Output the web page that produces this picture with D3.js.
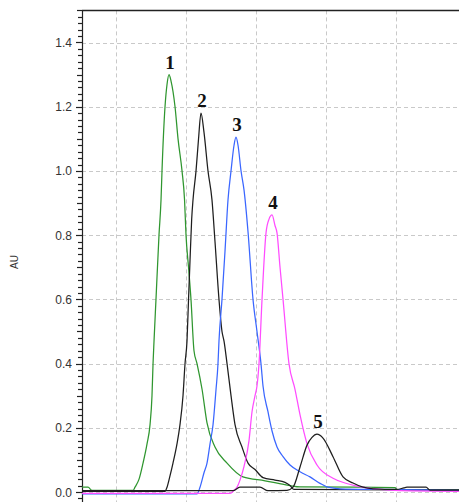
<!DOCTYPE html>
<html><head><meta charset="utf-8">
<script src="https://cdn.jsdelivr.net/npm/d3@7"></script>
<style>html,body{margin:0;padding:0;background:#fff;}svg{display:block;}</style>
</head><body><div id="chart"></div>
<script>
// Time (min) and absorbance (AU)
const yTicks = [0.0, 0.2, 0.4, 0.6, 0.8, 1.0, 1.2, 1.4];
const xGrid = [1, 2, 3, 4, 5];
const peakLabels = ["1", "2", "3", "4", "5"];
const seriesColors = ["#2f962f", "#1e1e1e", "#3a66ff", "#ff4cff", "#1e1e1e"];

const peak1 = [[0.514,0.015],[0.6,0.015],[0.657,0.005],[1.243,0.005],[1.271,0.015],[1.329,0.04],[1.386,0.09],[1.443,0.15],[1.486,0.21],[1.514,0.3],[1.529,0.4],[1.543,0.47],[1.571,0.6],[1.614,0.8],[1.643,0.91],[1.657,1.0],[1.7,1.2],[1.729,1.27],[1.757,1.30],[1.786,1.28],[1.843,1.2],[1.886,1.1],[1.943,1.0],[1.979,0.91],[2.0,0.8],[2.036,0.7],[2.071,0.6],[2.114,0.44],[2.157,0.4],[2.229,0.32],[2.3,0.215],[2.414,0.14],[2.586,0.09],[2.814,0.047],[3.129,0.035],[3.486,0.02],[3.629,0.016],[4.986,0.014],[5.014,0.007],[5.9,0.007]];
const peak2 = [[0.514,0.002],[1.7,0.002],[1.729,0.015],[1.771,0.05],[1.814,0.09],[1.871,0.15],[1.914,0.21],[1.957,0.3],[1.986,0.4],[2.014,0.47],[2.036,0.6],[2.057,0.72],[2.081,0.85],[2.1,0.91],[2.143,1.0],[2.179,1.1],[2.214,1.18],[2.257,1.12],[2.314,1.0],[2.371,0.91],[2.414,0.78],[2.471,0.6],[2.514,0.5],[2.543,0.47],[2.586,0.4],[2.643,0.3],[2.7,0.21],[2.8,0.14],[2.886,0.09],[2.986,0.07],[3.1,0.045],[3.271,0.037],[3.414,0.03],[3.486,0.02],[3.543,0.008],[5.9,0.006]];
const peak3 = [[0.514,-0.006],[2.157,-0.006],[2.2,0.015],[2.257,0.06],[2.3,0.09],[2.343,0.15],[2.386,0.21],[2.429,0.32],[2.457,0.4],[2.471,0.47],[2.514,0.6],[2.557,0.75],[2.6,0.91],[2.643,1.0],[2.686,1.08],[2.714,1.105],[2.743,1.08],[2.786,1.0],[2.829,0.94],[2.886,0.81],[2.957,0.6],[3.014,0.5],[3.071,0.4],[3.1,0.33],[3.171,0.25],[3.229,0.19],[3.3,0.14],[3.386,0.11],[3.486,0.084],[3.629,0.063],[3.771,0.047],[3.914,0.027],[4.029,0.015],[4.2,0.01],[4.771,0.008],[5.9,0.005]];
const peak4 = [[0.514,-0.004],[2.629,-0.004],[2.686,0.005],[2.729,0.015],[2.771,0.037],[2.829,0.08],[2.9,0.16],[2.943,0.25],[2.986,0.3],[3.014,0.33],[3.043,0.4],[3.086,0.6],[3.143,0.807],[3.186,0.85],[3.229,0.863],[3.271,0.83],[3.3,0.807],[3.343,0.7],[3.386,0.6],[3.471,0.4],[3.557,0.32],[3.629,0.24],[3.729,0.15],[3.871,0.084],[4.1,0.043],[4.271,0.028],[4.443,0.018],[4.771,0.008],[5.057,0.004],[5.9,0.002]];
const peak5 = [[0.514,0.004],[2.671,0.004],[2.771,0.015],[3.057,0.015],[3.171,0.004],[3.443,0.005],[3.529,0.015],[3.629,0.078],[3.729,0.146],[3.8,0.17],[3.871,0.18],[3.957,0.168],[4.1,0.11],[4.243,0.047],[4.386,0.028],[4.529,0.015],[4.671,0.01],[5.014,0.008],[5.114,0.013],[5.157,0.015],[5.429,0.015],[5.486,0.006],[5.9,0.006]];
const series = [peak1, peak2, peak3, peak4, peak5];

const W = 459, H = 502;
const svg = d3.select("#chart").append("svg").attr("width", W).attr("height", H);

const x = d3.scaleLinear().domain([0.514, 5.9]).range([82, 459]);
const y = d3.scaleLinear().domain([0, 1.4]).range([492, 42.5]);
const yTop = y(1.5), yBot = H;

// grid
const grid = svg.append("g").attr("stroke", "#c9c9c9").attr("stroke-width", 1).attr("stroke-dasharray", "4,3");
grid.selectAll("line.h").data(yTicks).join("line").attr("class","h")
  .attr("x1", 82).attr("x2", W).attr("y1", d => Math.round(y(d)) + 0.5).attr("y2", d => Math.round(y(d)) + 0.5);
grid.selectAll("line.v").data(xGrid).join("line").attr("class","v")
  .attr("x1", d => Math.round(x(d)) + 0.5).attr("x2", d => Math.round(x(d)) + 0.5).attr("y1", yTop).attr("y2", yBot);

// top border
svg.append("line").attr("x1", 82).attr("x2", W).attr("y1", Math.round(yTop)+0.5).attr("y2", Math.round(yTop)+0.5)
  .attr("stroke", "#222").attr("stroke-width", 1.3);

// y axis with minor ticks
const minor = d3.range(-2, 76).map(i => i * 0.02).filter(v => v <= 1.5001 && y(v) <= yBot);
const axisG = svg.append("g");
axisG.append("line").attr("x1", 82.5).attr("x2", 82.5).attr("y1", yTop).attr("y2", yBot).attr("stroke", "#222").attr("stroke-width", 1.2);
axisG.selectAll("line.t").data(minor).join("line").attr("class", "t")
  .attr("x1", d => {
    const k = Math.round(d * 50);
    if (k % 10 === 0) return 76;
    if (k % 5 === 0) return 77;
    return 78;
  })
  .attr("x2", 82).attr("y1", d => Math.round(y(d)) + 0.5).attr("y2", d => Math.round(y(d)) + 0.5)
  .attr("stroke", "#222").attr("stroke-width", 1.2);
axisG.selectAll("text").data(yTicks).join("text")
  .attr("x", 72).attr("y", d => y(d) + 4.5).attr("text-anchor", "end")
  .attr("font-family", "Liberation Sans, Arial, sans-serif").attr("font-size", 12).attr("fill", "#333")
  .text(d => d.toFixed(1));

svg.append("text").attr("transform", "translate(18,262) rotate(-90)").attr("text-anchor", "middle")
  .attr("font-family", "Liberation Sans, Arial, sans-serif").attr("font-size", 10).attr("fill", "#333").text("AU");

// curves
const line = d3.line().x(d => x(d[0])).y(d => y(d[1])).curve(d3.curveMonotoneX);
svg.append("g").selectAll("path").data(series).join("path")
  .attr("d", s => line(s)).attr("fill", "none")
  .attr("stroke", (s, i) => seriesColors[i]).attr("stroke-width", 1.25);

// peak labels
const labG = svg.append("g");
series.forEach((s, i) => {
  const p = s.reduce((a, b) => (b[1] > a[1] ? b : a));
  labG.append("text").attr("x", x(p[0]) + 1).attr("y", y(p[1]) - 6).attr("text-anchor", "middle")
    .attr("font-family", "Liberation Serif, Times New Roman, serif").attr("font-weight", "bold")
    .attr("font-size", 19).attr("fill", "#111").text(peakLabels[i]);
});
</script>
</body></html>
